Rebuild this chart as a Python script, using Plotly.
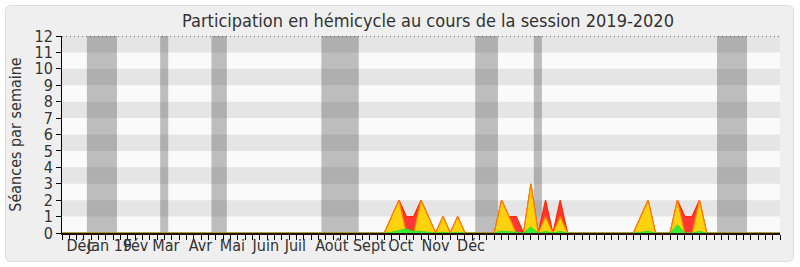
import plotly.graph_objects as go

# ---- data (weekly points) ----
weeks = list(range(0, 99))

seances_total = [0,0,0,0,0,0,0,0,0,0, 0,0,0,0,0,0,0,0,0,0,
                 0,0,0,0,0,0,0,0,0,0, 0,0,0,0,0,0,0,0,0,0,
                 0,0,0,0,0,1,2,1,1,2, 1,0,1,0,1,0,0,0,0,0,
                 2,1,1,0,3,0,2,0,2,0, 0,0,0,0,0,0,0,0,0,1,
                 2,0,0,0,2,1,1,2,0,0, 0,0,0,0,0,0,0,0,0]
seances_presence = [0,0,0,0,0,0,0,0,0,0, 0,0,0,0,0,0,0,0,0,0,
                    0,0,0,0,0,0,0,0,0,0, 0,0,0,0,0,0,0,0,0,0,
                    0,0,0,0,0,1,2,0,0,2, 1,0,1,0,1,0,0,0,0,0,
                    2,1,0,0,3,0,1,0,1,0, 0,0,0,0,0,0,0,0,0,1,
                    2,0,0,0,2,0,0,2,0,0, 0,0,0,0,0,0,0,0,0]
interventions = [0,0,0,0,0,0,0,0,0,0, 0,0,0,0,0,0,0,0,0,0,
                 0,0,0,0,0,0,0,0,0,0, 0,0,0,0,0,0,0,0,0,0,
                 0,0,0,0,0,0.05,0.15,0.25,0.1,0.1, 0.05,0,0.05,0,0.05,0,0,0,0,0,
                 0.12,0.1,0.05,0,0.37,0,0.1,0,0.1,0, 0,0,0,0,0,0,0,0,0,0.05,
                 0.1,0,0,0,0.5,0,0,0.1,0,0, 0,0,0,0,0,0,0,0,0]

vacances = [(3.4, 7.5), (13.4, 14.5), (20.4, 22.5), (35.4, 40.5),
            (56.4, 59.5), (64.4, 65.5), (89.4, 93.5)]

month_labels = ["Déc", "Jan 19", "Fév", "Mar", "Avr", "Mai", "Juin", "Juil",
                "Août", "Sept", "Oct", "Nov", "Déc"]
month_pos = [2.52, 6.48, 10.09, 14.18, 18.89, 23.25, 27.82, 31.85,
             36.82, 41.94, 46.24, 50.98, 55.82]

XMAX = 98
YMAX = 12
FONT = "DejaVu Sans Condensed, DejaVu Sans, sans-serif"
TXT = "#333333"

fig = go.Figure()
fig.add_trace(go.Scatter(x=weeks, y=seances_total, mode="lines", fill="tozeroy",
                         fillcolor="rgba(255,20,20,0.85)",
                         line=dict(color="#ff2a00", width=1.2),
                         hoverinfo="skip", showlegend=False))
fig.add_trace(go.Scatter(x=weeks, y=seances_presence, mode="lines", fill="tozeroy",
                         fillcolor="#ffd20f",
                         line=dict(color="#ff7f00", width=1.2),
                         hoverinfo="skip", showlegend=False))
fig.add_trace(go.Scatter(x=weeks, y=interventions, mode="lines", fill="tozeroy",
                         fillcolor="#33ee33",
                         line=dict(color="#22dd22", width=0.8),
                         hoverinfo="skip", showlegend=False))
# carrier trace for month label axis
fig.add_trace(go.Scatter(x=[0, XMAX], y=[None, None], xaxis="x2", yaxis="y",
                         mode="lines", hoverinfo="skip", showlegend=False))

# ---- decorations ----
L, R, T, B = 62, 780, 36, 233
def fx(px):
    return (px - L) / (R - L)
def fy(py):
    return (B - py) / (B - T)

x0, x1, y0, y1, r = 5.5, 793.5, 5.5, 261.5, 6
path = (f"M {fx(x0+r)} {fy(y0)} L {fx(x1-r)} {fy(y0)} Q {fx(x1)} {fy(y0)} {fx(x1)} {fy(y0+r)} "
        f"L {fx(x1)} {fy(y1-r)} Q {fx(x1)} {fy(y1)} {fx(x1-r)} {fy(y1)} "
        f"L {fx(x0+r)} {fy(y1)} Q {fx(x0)} {fy(y1)} {fx(x0)} {fy(y1-r)} "
        f"L {fx(x0)} {fy(y0+r)} Q {fx(x0)} {fy(y0)} {fx(x0+r)} {fy(y0)} Z")
shapes = [dict(type="path", path=path, xref="paper", yref="paper",
               fillcolor="#efefef", line=dict(color="#dcdcdc", width=1), layer="below")]
shapes.append(dict(type="rect", xref="x", yref="y", x0=0, x1=XMAX, y0=0, y1=YMAX,
                   fillcolor="#fafafa", line=dict(width=0), layer="below"))
for k in range(1, YMAX, 2):
    shapes.append(dict(type="rect", xref="x", yref="y", x0=0, x1=XMAX, y0=k, y1=k + 1,
                       fillcolor="#e5e5e5", line=dict(width=0), layer="below"))
for a, b in vacances:
    shapes.append(dict(type="rect", xref="x", yref="y", x0=a, x1=b, y0=0, y1=YMAX,
                       fillcolor="rgba(50,50,50,0.3)", line=dict(width=0), layer="below"))
shapes.append(dict(type="line", xref="x", yref="y", x0=0, x1=XMAX, y0=YMAX, y1=YMAX,
                   line=dict(color="#000000", width=1, dash="1px,3px"), layer="above"))

fig.update_layout(
    width=800, height=267,
    margin=dict(l=L, r=800 - R, t=T, b=267 - B, pad=0, autoexpand=False),
    paper_bgcolor="white", plot_bgcolor="rgba(0,0,0,0)",
    font=dict(family=FONT, color=TXT, size=14),
    title=dict(text="Participation en hémicycle au cours de la session 2019-2020",
               x=428 / 800, xanchor="center", y=1 - 21 / 267, yanchor="middle",
               font=dict(size=18, family=FONT, color=TXT)),
    shapes=shapes,
    xaxis=dict(range=[0, XMAX], tick0=0, dtick=1, ticks="outside", ticklen=5,
               tickcolor="#000000", showticklabels=False, showline=True,
               linecolor="#2a0a00", linewidth=1.6, showgrid=False, zeroline=False,
               automargin=False),
    xaxis2=dict(range=[0, XMAX], overlaying="x", anchor="y", side="bottom",
                tickmode="array", tickvals=month_pos, ticktext=month_labels,
                ticks="", showline=False, showgrid=False, zeroline=False, tickangle=0,
                automargin=False,
                tickfont=dict(size=16, family=FONT, color=TXT), ticklabelstandoff=1),
    yaxis=dict(range=[0, YMAX], tick0=0, dtick=1, ticks="outside", ticklen=5,
               tickcolor="#000000", showline=True, linecolor="#000000", linewidth=1,
               showgrid=False, zeroline=False, automargin=False,
               tickfont=dict(size=16, family=FONT, color=TXT),
               title=dict(text="Séances par semaine", font=dict(size=16, family=FONT, color=TXT),
                          standoff=8)),
)

fig.write_html("out.html")
